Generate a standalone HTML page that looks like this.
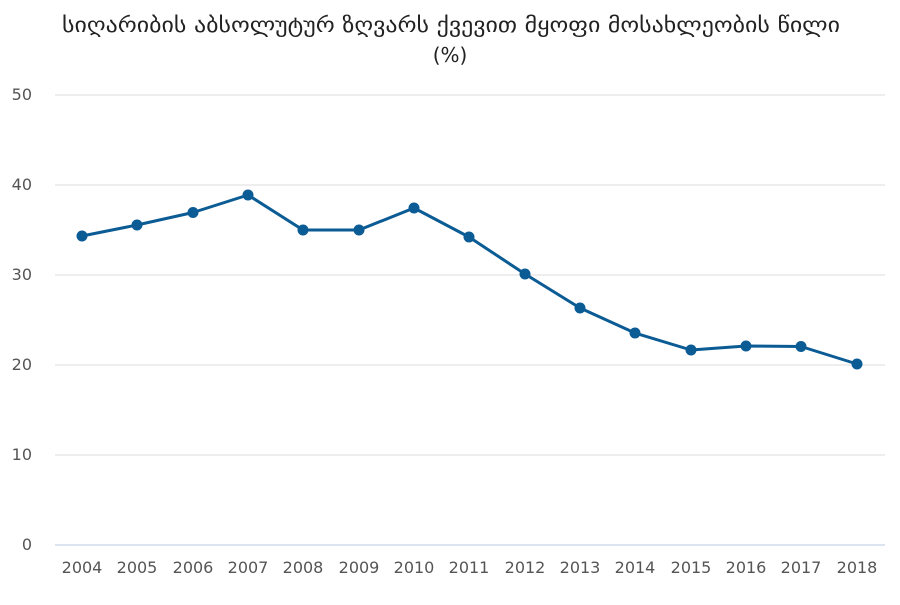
<!DOCTYPE html>
<html><head><meta charset="utf-8"><style>
body{margin:0;background:#fff;width:900px;height:600px;overflow:hidden}
</style></head><body>
<svg width="900" height="600" xmlns="http://www.w3.org/2000/svg" font-family="'DejaVu Sans','Liberation Sans',sans-serif">
<text x="62" y="32" font-size="21" fill="#222" textLength="778" lengthAdjust="spacingAndGlyphs">სიღარიბის აბსოლუტურ ზღვარს ქვევით მყოფი მოსახლეობის წილი</text>
<text x="450" y="62" text-anchor="middle" font-size="20" fill="#222">(%)</text>
<g stroke="#dcdcdc" stroke-width="1">
<line x1="55" x2="885" y1="95" y2="95"/><line x1="55" x2="885" y1="185" y2="185"/>
<line x1="55" x2="885" y1="275" y2="275"/><line x1="55" x2="885" y1="365" y2="365"/>
<line x1="55" x2="885" y1="455" y2="455"/>
</g>
<line x1="55" x2="885" y1="545" y2="545" stroke="#b8c8e0" stroke-width="1"/>
<g font-size="16" fill="#555" text-anchor="end">
<text x="32" y="100">50</text><text x="32" y="190">40</text><text x="32" y="280">30</text>
<text x="32" y="370">20</text><text x="32" y="460">10</text><text x="32" y="550">0</text>
</g>
<g font-size="16" fill="#555" text-anchor="middle">
<text x="82" y="573">2004</text><text x="137" y="573">2005</text><text x="193" y="573">2006</text>
<text x="248" y="573">2007</text><text x="303" y="573">2008</text><text x="359" y="573">2009</text>
<text x="414" y="573">2010</text><text x="469" y="573">2011</text><text x="525" y="573">2012</text>
<text x="580" y="573">2013</text><text x="635" y="573">2014</text><text x="691" y="573">2015</text>
<text x="746" y="573">2016</text><text x="801" y="573">2017</text><text x="857" y="573">2018</text>
</g>
<polyline fill="none" stroke="#0b5b95" stroke-width="3" stroke-linejoin="round" points="82,236 137,225 193,212.5 248,195 303,230 359,230 414,208 469,237 525,274 580,308 635,333 691,350 746,346 801,346.5 857,364"/>
<g fill="#0b5b95">
<circle cx="82" cy="236" r="5.5"/><circle cx="137" cy="225" r="5.5"/><circle cx="193" cy="212.5" r="5.5"/>
<circle cx="248" cy="195" r="5.5"/><circle cx="303" cy="230" r="5.5"/><circle cx="359" cy="230" r="5.5"/>
<circle cx="414" cy="208" r="5.5"/><circle cx="469" cy="237" r="5.5"/><circle cx="525" cy="274" r="5.5"/>
<circle cx="580" cy="308" r="5.5"/><circle cx="635" cy="333" r="5.5"/><circle cx="691" cy="350" r="5.5"/>
<circle cx="746" cy="346" r="5.5"/><circle cx="801" cy="346.5" r="5.5"/><circle cx="857" cy="364" r="5.5"/>
</g>
</svg>
</body></html>
